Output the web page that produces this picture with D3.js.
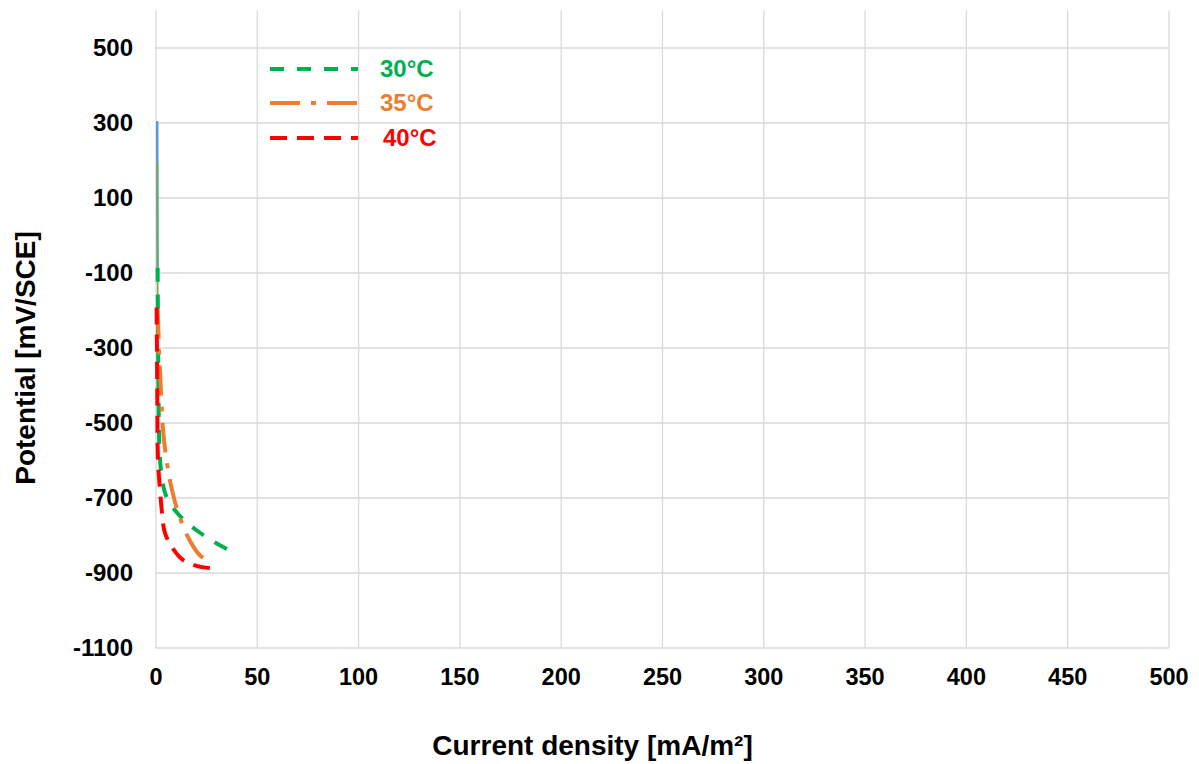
<!DOCTYPE html>
<html>
<head>
<meta charset="utf-8">
<script src="https://cdn.jsdelivr.net/npm/d3@7"></script>
<style>
  body { margin: 0; background: #fff; }
  text { font-family: "Liberation Sans", Arial, sans-serif; font-weight: bold; }
</style>
</head>
<body>
<div id="chart"></div>
<script>
// data: [current density mA/m², potential mV/SCE]
var blueSeries = [[0.6, 305], [0.65, 150], [0.7, 0], [0.8, -85]];
var lightGreenSeries = [[0.7, 195], [0.75, 0], [0.8, -100], [0.9, -170]];
var series30 = [[0.8, -85], [1, -250], [1.3, -450], [1.8, -580], [3, -650], [5, -695], [9, -730], [14, -760], [21, -790], [28, -815], [35, -836]];
var series35 = [[0.8, -190], [1.5, -300], [2.5, -420], [3.5, -520], [5.5, -610], [8, -681], [11, -740], [15.8, -804], [20.7, -847], [23.2, -860]];
var series40 = [[0.3, -165], [0.6, -400], [1, -600], [2, -680], [3, -740], [4.4, -793], [7.9, -831], [13.3, -865], [20, -881], [26.6, -887]];

var xTicks = [0, 50, 100, 150, 200, 250, 300, 350, 400, 450, 500];
var yTicks = [500, 300, 100, -100, -300, -500, -700, -900, -1100];
var legendNames = ["30°C", "35°C", "40°C"];

var W = 1199, H = 764;
var margin = {top: 10.5, right: 30, bottom: 116, left: 156};

var svg = d3.select("#chart").append("svg")
    .attr("width", W).attr("height", H);

var x = d3.scaleLinear().domain([0, 500]).range([margin.left, 1169]);
var y = d3.scaleLinear().domain([-1100, 600]).range([648, margin.top]);

// gridlines
svg.append("g").selectAll("line.h")
  .data(yTicks)
  .join("line")
  .attr("x1", x(0)).attr("x2", x(500))
  .attr("y1", d => y(d)).attr("y2", d => y(d))
  .style("stroke", "#d9d9d9").style("stroke-width", 1.3);

svg.append("g").selectAll("line.v")
  .data(xTicks)
  .join("line")
  .attr("x1", d => x(d)).attr("x2", d => x(d))
  .attr("y1", y(600)).attr("y2", y(-1100))
  .style("stroke", "#d9d9d9").style("stroke-width", 1.3);

// tick labels
svg.append("g").selectAll("text")
  .data(yTicks)
  .join("text")
  .attr("x", 133)
  .attr("y", d => y(d) + 8)
  .attr("text-anchor", "end")
  .attr("font-size", 24)
  .text(d => d);

svg.append("g").selectAll("text")
  .data(xTicks)
  .join("text")
  .attr("x", d => x(d))
  .attr("y", 685)
  .attr("text-anchor", "middle")
  .attr("font-size", 23.5)
  .text(d => d);

// axis titles
svg.append("text")
  .attr("x", (x(0) + x(500)) / 2 - 70)
  .attr("y", 755)
  .attr("text-anchor", "middle")
  .attr("font-size", 28)
  .text("Current density [mA/m²]");

svg.append("text")
  .attr("transform", `translate(35,${358}) rotate(-90)`)
  .attr("text-anchor", "middle")
  .attr("font-size", 28)
  .text("Potential [mV/SCE]");

var line = d3.line()
  .x(d => x(d[0]))
  .y(d => y(d[1]))
  .curve(d3.curveCatmullRom);

var styles = [
  {data: blueSeries, color: "#5b9bd5", width: 2.5, dash: null},
  {data: lightGreenSeries, color: "#70ad47", width: 1.6, dash: null},
  {data: series30, color: "#00b050", width: 4, dash: [14, 13]},
  {data: series35, color: "#ed7d31", width: 4, dash: [30, 11, 5, 11]},
  {data: series40, color: "#ff0000", width: 4, dash: [17, 10]}
];

svg.append("g").selectAll("path")
  .data(styles)
  .join("path")
  .attr("d", d => line(d.data))
  .style("fill", "none")
  .style("stroke", d => d.color)
  .style("stroke-width", d => d.width)
  .style("stroke-dasharray", d => d.dash ? d.dash.join(",") : null)
  .each(function(d) {
    // make the dash pattern finish on a dash at the end of the curve
    if (!d.dash) return;
    var period = d3.sum(d.dash);
    var len = this.getTotalLength();
    var off = (d.dash[0] - (len % period) + period) % period;
    d3.select(this).style("stroke-dashoffset", off);
  });

// legend
var legendStyles = styles.slice(2);
var legendY = [69, 103, 138];
var legend = svg.selectAll(".legend")
  .data(legendNames)
  .join("g")
  .attr("class", "legend");

legend.append("line")
  .attr("x1", 270).attr("x2", 358)
  .attr("y1", (d, i) => legendY[i]).attr("y2", (d, i) => legendY[i])
  .style("stroke", (d, i) => legendStyles[i].color)
  .style("stroke-width", 4)
  .style("stroke-dasharray", (d, i) => legendStyles[i].dash.join(","));

legend.append("text")
  .attr("x", (d, i) => i == 2 ? 383 : 380)
  .attr("y", (d, i) => legendY[i] + 8)
  .attr("font-size", 24)
  .style("fill", (d, i) => legendStyles[i].color)
  .text(d => d);
</script>
</body>
</html>
